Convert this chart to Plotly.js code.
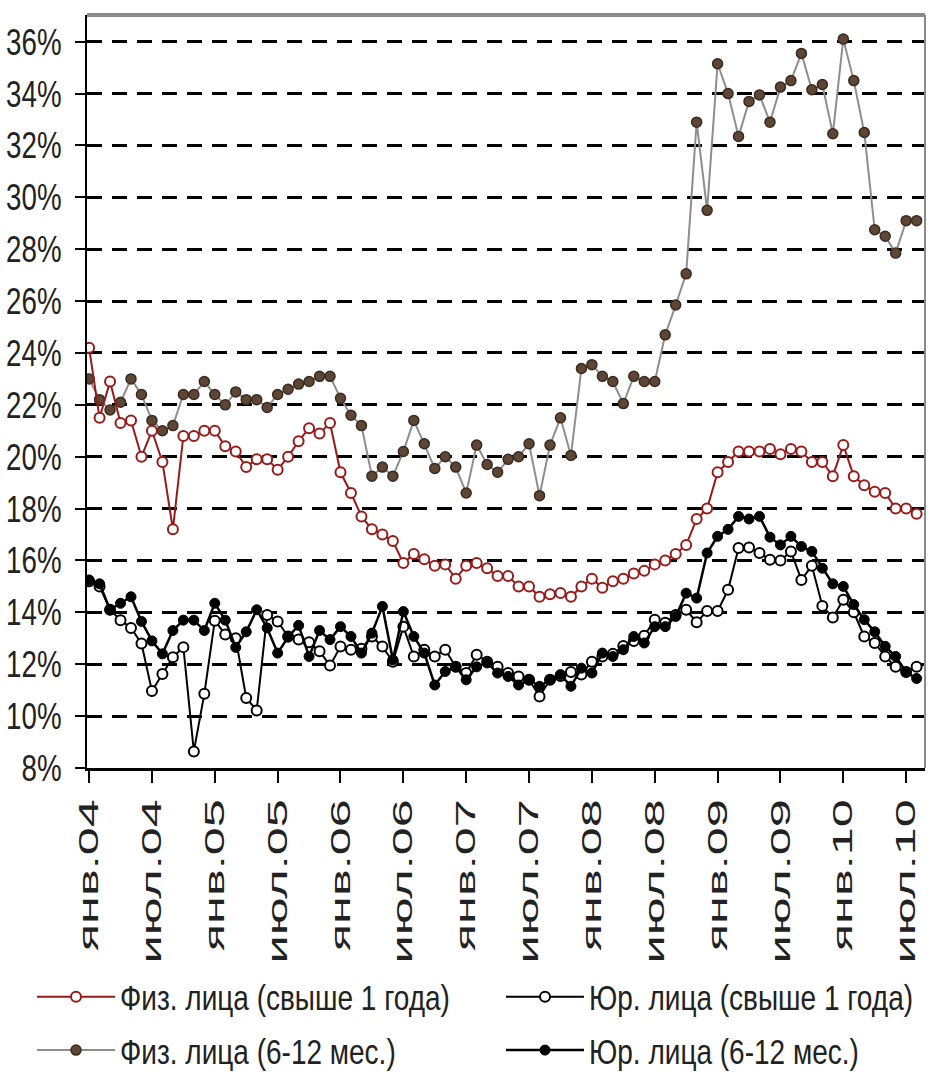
<!DOCTYPE html>
<html>
<head>
<meta charset="utf-8">
<script src="https://cdn.plot.ly/plotly-3.0.1.min.js"></script>
<style>
  html, body { margin: 0; padding: 0; background: #ffffff; }
  #chart { width: 930px; height: 1083px; }
</style>
</head>
<body>
<div id="chart"></div>
<script>
// Month names used to build the monthly categories (Jan 2004 – Aug 2010)
const monthNames = ['янв','фев','мар','апр','май','июн','июл','авг','сен','окт','ноя','дек'];
const startYear = 2004;
const nMonths = 80;
const categories = [];
for (let i = 0; i < nMonths; i++) {
  const yy = String((startYear + Math.floor(i / 12)) % 100).padStart(2, '0');
  categories.push(monthNames[i % 12] + '.' + yy);
}
// Tick labels shown on the axis (every January and July)
const tickLabels = categories.filter(c => c.startsWith('янв') || c.startsWith('июл'));

const seriesNames = [
  'Физ. лица (свыше 1 года)',
  'Юр. лица (свыше 1 года)',
  'Физ. лица (6-12 мес.)',
  'Юр. лица (6-12 мес.)'
];

// Физ. лица (свыше 1 года), %
const fizLong = [
  24.2,21.5,22.9,21.3,21.4,20.0,21.0,19.8,17.2,20.8,
  20.8,21.0,21.0,20.4,20.2,19.6,19.9,19.9,19.5,20.0,
  20.6,21.1,20.9,21.3,19.4,18.6,17.7,17.2,17.0,16.75,
  15.9,16.25,16.05,15.8,15.85,15.3,15.8,15.9,15.7,15.4,
  15.4,15.0,15.0,14.6,14.7,14.75,14.6,15.0,15.3,14.95,
  15.2,15.3,15.5,15.6,15.85,16.0,16.25,16.6,17.6,18.0,
  19.4,19.8,20.2,20.2,20.2,20.3,20.1,20.3,20.2,19.8,
  19.8,19.25,20.45,19.25,18.9,18.65,18.6,18.0,18.0,17.8
];
// Физ. лица (6-12 мес.), %
const fizShort = [
  23.0,22.2,21.8,22.1,23.0,22.4,21.4,21.0,21.2,22.4,
  22.4,22.9,22.4,22.0,22.5,22.2,22.2,21.9,22.4,22.6,
  22.8,22.9,23.1,23.1,22.25,21.6,21.2,19.25,19.6,19.25,
  20.2,21.4,20.5,19.55,20.0,19.6,18.6,20.45,19.7,19.4,
  19.9,20.0,20.5,18.5,20.45,21.5,20.05,23.4,23.55,23.1,
  22.9,22.05,23.1,22.9,22.9,24.7,25.85,27.05,32.9,29.5,
  35.15,34.0,32.35,33.7,33.95,32.9,34.25,34.5,35.55,34.15,
  34.35,32.45,36.1,34.5,32.5,28.75,28.5,27.85,29.1,29.1
];
// Юр. лица (свыше 1 года), %
const jurLong = [
  15.2,15.0,14.1,13.7,13.4,12.8,10.97,11.62,12.27,12.66,
  8.64,10.86,13.68,13.15,13.0,10.7,10.22,13.9,13.65,13.07,
  12.95,12.85,12.5,11.95,12.68,12.56,12.6,13.07,12.68,12.1,
  13.45,12.3,12.56,12.3,12.56,11.9,11.66,12.37,12.1,11.9,
  11.66,11.53,11.4,10.76,11.4,11.55,11.7,11.6,12.1,12.3,
  12.4,12.7,12.9,13.1,13.72,13.6,13.9,14.1,13.62,14.05,
  14.05,14.87,16.48,16.5,16.29,16.03,16.0,16.35,15.25,15.8,
  14.25,13.8,14.49,14.0,13.07,12.82,12.3,11.9,11.7,11.9
];
// Юр. лица (6-12 мес.), %
const jurShort = [
  15.25,15.1,14.1,14.35,14.6,13.65,12.9,12.4,13.3,13.7,
  13.7,13.3,14.35,13.7,12.65,13.25,14.1,13.4,12.43,13.05,
  13.5,12.3,13.3,12.95,13.45,13.07,12.43,13.2,14.23,12.17,
  14.03,13.07,12.43,11.2,11.72,11.9,11.4,11.9,12.05,11.66,
  11.53,11.2,11.4,11.15,11.4,11.6,11.15,11.85,11.66,12.43,
  12.3,12.56,13.07,12.82,13.45,13.45,13.84,14.74,14.55,16.29,
  16.93,17.2,17.7,17.6,17.7,16.9,16.6,16.93,16.54,16.35,
  15.7,15.1,15.0,14.3,13.72,13.25,12.69,12.3,11.7,11.45
];
const yTickValues = [8,10,12,14,16,18,20,22,24,26,28,30,32,34,36];

const FONT = "'Liberation Sans', Arial, sans-serif";

const traces = [
  {
    name: seriesNames[2], x: categories, y: fizShort, type: 'scatter', mode: 'lines+markers',
    line: { color: '#8e8e8e', width: 2 },
    marker: { symbol: 'circle', size: 10, color: '#5e4636', line: { color: '#3a2a20', width: 1.5 } },
    legend: 'legend', legendrank: 2, legendgroup: 'g2'
  },
  {
    name: seriesNames[0], x: categories, y: fizLong, type: 'scatter', mode: 'lines+markers',
    line: { color: '#9a1a1a', width: 2 },
    marker: { symbol: 'circle', size: 10, color: '#ffffff', line: { color: '#9a1a1a', width: 2 } },
    legend: 'legend', legendrank: 1, legendgroup: 'g1'
  },
  {
    name: seriesNames[1], x: categories, y: jurLong, type: 'scatter', mode: 'lines+markers',
    line: { color: '#000000', width: 2 },
    marker: { symbol: 'circle', size: 10, color: '#ffffff', line: { color: '#000000', width: 2 } },
    legend: 'legend2', legendrank: 1, legendgroup: 'g3'
  },
  {
    name: seriesNames[3], x: categories, y: jurShort, type: 'scatter', mode: 'lines+markers',
    line: { color: '#000000', width: 2.5 },
    marker: { symbol: 'circle', size: 10, color: '#000000', line: { color: '#000000', width: 1 } },
    legend: 'legend2', legendrank: 2, legendgroup: 'g4'
  }
];

const legendCommon = {
  orientation: 'v', xref: 'container', yref: 'container', xanchor: 'left', yanchor: 'top',
  y: 1 - 972 / 1083, bgcolor: 'rgba(0,0,0,0)',
  font: { family: FONT, size: 28, color: '#222222' },
  tracegroupgap: 14, itemwidth: 78, traceorder: 'grouped'
};

const layout = {
  width: 930, height: 1083,
  paper_bgcolor: '#ffffff', plot_bgcolor: '#ffffff',
  margin: { l: 87, r: 5, t: 15, b: 315, autoexpand: false },
  font: { family: FONT, size: 30, color: '#222222' },
  showlegend: true,
  legend: Object.assign({}, legendCommon, { x: 32 / 930 }),
  legend2: Object.assign({}, legendCommon, { x: 501 / 930 }),
  xaxis: {
    type: 'category', range: [-0.2, 79.8],
    tickmode: 'array', tickvals: tickLabels, ticktext: tickLabels,
    tickangle: -90, ticks: 'outside', ticklen: 12, tickwidth: 2, tickcolor: '#000',
    ticklabelstandoff: 5,
    showline: true, linecolor: '#000', linewidth: 3,
    showgrid: false, zeroline: false,
    tickfont: { family: FONT, size: 28, color: '#222' },
    automargin: false
  },
  yaxis: {
    range: [8, 37.03], tickmode: 'array', tickvals: yTickValues,
    ticktext: yTickValues.map(v => v + '%'),
    ticks: 'outside', ticklen: 10, tickwidth: 2, tickcolor: '#000',
    ticklabelstandoff: 6,
    showline: true, linecolor: '#000', linewidth: 2,
    showgrid: true, gridcolor: '#000', gridwidth: 3, griddash: '15px,10px',
    zeroline: false,
    tickfont: { family: FONT, size: 37, color: '#222' },
    automargin: false
  },
  shapes: [
    { type: 'line', xref: 'paper', yref: 'paper', x0: 0, x1: 1, y0: 1, y1: 1, line: { color: '#8a8a8a', width: 4 } },
    { type: 'line', xref: 'paper', yref: 'paper', x0: 1, x1: 1, y0: 0, y1: 1, line: { color: '#8a8a8a', width: 2 } }
  ]
};

// The reference picture is stretched vertically: mimic it by condensing/stretching
// text along its baseline with SVG textLength, or scaling it vertically (text stays real text).
function adjustText(selector, factor, scaleY) {
  document.querySelectorAll(selector).forEach(t => {
    if (factor !== 1) {
      let w = parseFloat(t.getAttribute('data-natural-length'));
      if (!(w > 0)) {
        t.removeAttribute('textLength');
        w = t.getComputedTextLength();
        t.setAttribute('data-natural-length', w);
      }
      if (w > 0) {
        t.setAttribute('textLength', (w * factor).toFixed(1));
        t.setAttribute('lengthAdjust', 'spacingAndGlyphs');
      }
    }
    if (scaleY) {
      t.style.transformBox = 'fill-box';
      t.style.transformOrigin = 'center';
      t.style.transform = 'scaleY(' + scaleY + ')';
    }
  });
}
function adjustAll() {
  adjustText('#chart .xtick text', 1.8);
  adjustText('#chart .ytick text', 0.75);
  adjustText('#chart text[class*="legend"]', 1, 1.27);
}

const gd = document.getElementById('chart');
Plotly.newPlot(gd, traces, layout, { displayModeBar: false, staticPlot: true }).then(() => {
  adjustAll();
  gd.on('plotly_afterplot', adjustAll);
  setTimeout(adjustAll, 50);
  setTimeout(adjustAll, 300);
});
</script>
</body>
</html>
